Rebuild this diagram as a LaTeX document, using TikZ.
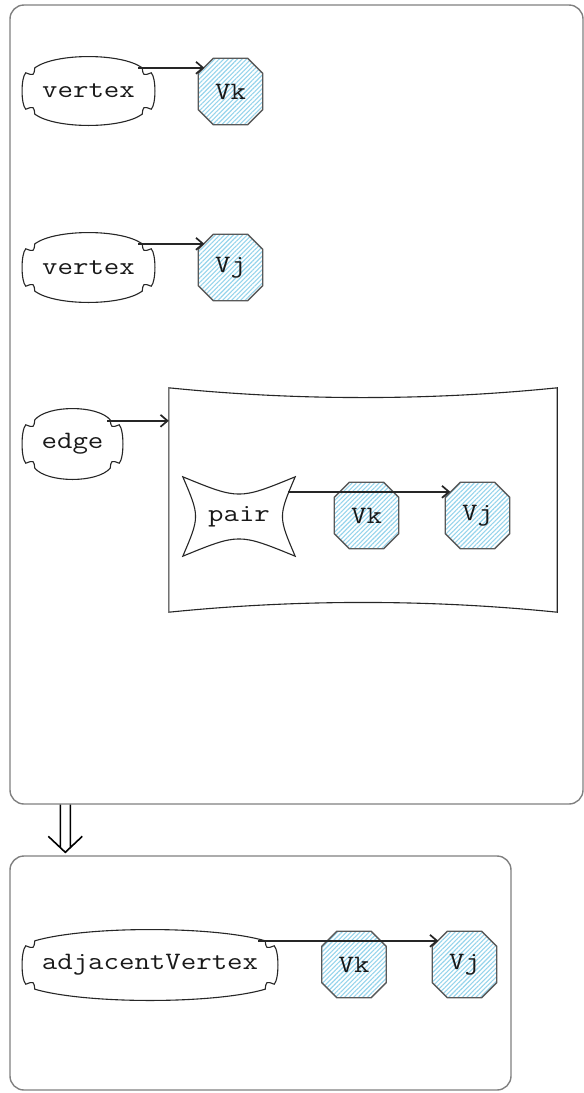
\documentclass[tikz,border=0pt]{standalone}
\usepackage{fontspec}
\setmonofont{Latin Modern Mono}[FakeStretch=1.2]
\usetikzlibrary{calc,arrows.meta,patterns.meta,backgrounds}
\definecolor{hatchblue}{RGB}{150,212,236}
\definecolor{framegray}{RGB}{128,128,128}

\begin{document}
\begin{tikzpicture}[x=1pt, y=-1pt, >={Straight Barb[length=7pt,width=12pt]},
		word/.style={font=\ttfamily\fontsize{25}{25}\selectfont, text=black!90, inner sep=0pt},
		frame/.style={draw=framegray, line width=1.4pt, rounded corners=14pt},
		octbox/.style={word, minimum width=64pt, minimum height=66pt},
		link/.style={->, draw=black!85, line width=1.7pt},
		cloudline/.style={draw=black!85, line width=1.1pt},
		hatch/.style={draw=black!65, line width=1.3pt, pattern={Lines[angle=45,distance=3.2pt,line width=1.1pt]}, pattern color=hatchblue}]
			
			\useasboundingbox (0,0) rectangle (584,1093);
			
			\node[frame, minimum width=573pt, minimum height=799pt] (outer) at (296.5,404.5) {};
			\node[frame, minimum width=501pt, minimum height=234pt] (inner) at (260.5,973) {};
			
			% cloud-like boxes
			\node[word, minimum width=131pt, minimum height=68pt] (vertexA) at (88.5,91) {vertex};
			\node[word, minimum width=131pt, minimum height=69pt] (vertexB) at (88.5,267.5) {vertex};
			\node[word, minimum width=99pt, minimum height=70pt] (edge) at (72.5,444) {edge};
			\node[word, minimum width=254pt, minimum height=70pt] (adjVertex) at (150,965) {adjacentVertex};
			
			% octagons
			\node[octbox] (vkA) at (230.5,91.5) {Vk};
			\node[octbox] (vjA) at (230.5,267.5) {Vj};
			\node[octbox] (vkB) at (366.5,515.5) {Vk};
			\node[octbox] (vjB) at (477.5,515.5) {Vj};
			\node[octbox] (vkC) at (354,964.5) {Vk};
			\node[octbox] (vjC) at (464.5,964.5) {Vj};
			
			\node[minimum width=388pt, minimum height=224pt] (edgebox) at (363,500) {};
			\node[word, minimum width=112pt, minimum height=79pt] (pair) at (239,516.5) {pair};
			
			\begin{scope}[on background layer]
				\fill[white] (0,0) rectangle (584,1093);
				\foreach \n in {vkA,vjA,vkB,vjB,vkC,vjC}{
					\draw[hatch] ($(\n.north west)+(15,0)$) -- ($(\n.north east)+(-15,0)$)
					-- ($(\n.north east)+(0,15)$) -- ($(\n.south east)+(0,-15)$)
					-- ($(\n.south east)+(-15,0)$) -- ($(\n.south west)+(15,0)$)
					-- ($(\n.south west)+(0,-15)$) -- ($(\n.north west)+(0,15)$) -- cycle;
				}
			\end{scope}
			
			\foreach \n in {vertexA,vertexB,edge,adjVertex}{
				\draw[cloudline] ($(\n.north west)+(12,11)$)
				.. controls ($(\n.north west)!.25!(\n.north east)+(0,-4)$) and ($(\n.north west)!.75!(\n.north east)+(0,-4)$) .. ($(\n.north east)+(-12,11)$)
				.. controls ($(\n.north east)+(-11,19)$) .. ($(\n.north east)+(-3,16)$)
				.. controls ($(\n.north east)!.3!(\n.south east)+(2,0)$) and ($(\n.north east)!.7!(\n.south east)+(2,0)$) .. ($(\n.south east)+(-3,-16)$)
				.. controls ($(\n.south east)+(-11,-19)$) .. ($(\n.south east)+(-12,-11)$)
				.. controls ($(\n.south east)!.25!(\n.south west)+(0,4)$) and ($(\n.south east)!.75!(\n.south west)+(0,4)$) .. ($(\n.south west)+(12,-11)$)
				.. controls ($(\n.south west)+(11,-19)$) .. ($(\n.south west)+(3,-16)$)
				.. controls ($(\n.south west)!.3!(\n.north west)+(-2,0)$) and ($(\n.south west)!.7!(\n.north west)+(-2,0)$) .. ($(\n.north west)+(3,16)$)
				.. controls ($(\n.north west)+(11,19)$) .. cycle;
			}
			
			% wavy box round the pair
			\draw[cloudline] (edgebox.north west) -- (edgebox.south west)
			.. controls ($(edgebox.south west)!.33!(edgebox.south east)+(0,-13)$) and ($(edgebox.south west)!.67!(edgebox.south east)+(0,-13)$) .. (edgebox.south east)
			-- (edgebox.north east)
			.. controls ($(edgebox.north east)!.33!(edgebox.north west)+(0,13)$) and ($(edgebox.north east)!.67!(edgebox.north west)+(0,13)$) .. cycle;
			
			\draw[cloudline] (pair.north west) .. controls ($(pair.north)+(0,23)$) .. (pair.north east)
			.. controls ($(pair.east)+(-17,0)$) .. (pair.south east)
			.. controls ($(pair.south)+(0,-23)$) .. (pair.south west)
			.. controls ($(pair.west)+(17,0)$) .. cycle;
			
			\foreach \from/\to/\dx in {vertexA/vkA/16, vertexB/vjA/16, adjVertex/vjC/19}{
				\draw[link] ($(\from.north east)+(-\dx,11)$) coordinate (s) -- ($(s -| \to.west)+(6,0)$);
			}
			\draw[link] ($(edge.north east)+(-15,12)$) coordinate (s) -- (s -| edgebox.west);
			\draw[link] ($(pair.north east)+(-7,15)$) coordinate (s) -- ($(s -| vjB.west)+(5,0)$);
			
			% double arrow between the frames
			\coordinate (dtop) at ($(outer.south west)+(56,0)$);
			\coordinate (dtip) at ($(inner.north west)+(56,-3)$);
			\draw[line width=1.6pt] ($(dtop)+(-5,0)$) -- ($(dtip)+(-5,-5)$)
			($(dtop)+(5,0)$) -- ($(dtip)+(5,-5)$)
			($(dtip)+(-17,-16)$) -- (dtip) -- ($(dtip)+(17,-16)$);
			
		\end{tikzpicture}
\end{document}
